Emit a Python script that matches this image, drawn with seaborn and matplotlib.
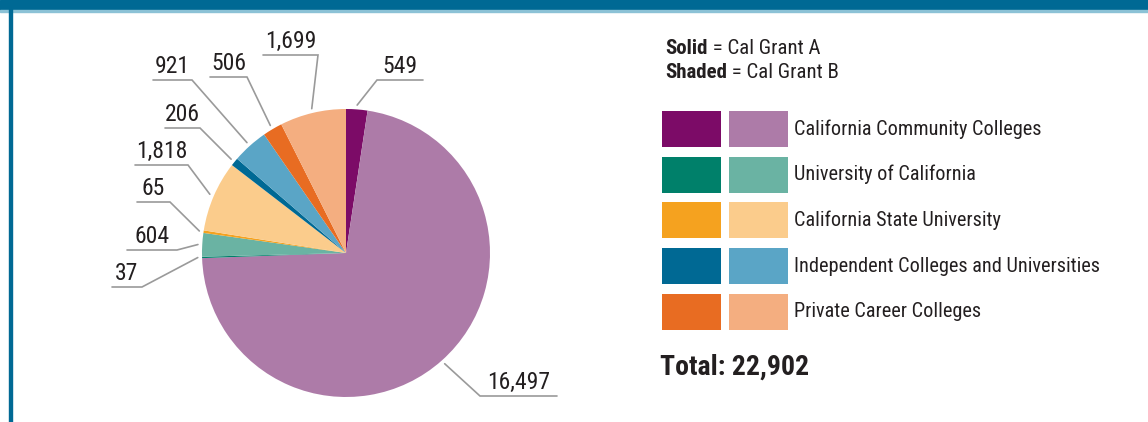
import numpy as np
import matplotlib.pyplot as plt
from matplotlib.patches import Rectangle
import seaborn as sns

sns.set_style("white")
plt.rcParams['font.family'] = ['Roboto Condensed', 'Archivo Narrow', 'PT Sans Narrow',
                               'Liberation Sans', 'DejaVu Sans']

# Data: Cal Grant recipients by segment
segments = ['California Community Colleges', 'University of California',
            'California State University', 'Independent Colleges and Universities',
            'Private Career Colleges']
grant_a = [549, 37, 65, 206, 506]
grant_b = [16497, 604, 1818, 921, 1699]
solid_colors = ['#7c0b67', '#00806a', '#f5a21f', '#006994', '#e86c22']
shaded_colors = ['#ad7ba8', '#6ab3a3', '#fbcc8c', '#5aa5c6', '#f4ae80']

values = [v for pair in zip(grant_a, grant_b) for v in pair]
colors = [c for pair in zip(solid_colors, shaded_colors) for c in pair]

W, H = 1148, 422
fig = plt.figure(figsize=(W / 100, H / 100), dpi=100)
ax = fig.add_axes([0, 0, 1, 1])

# pie in pixel space
cx, cy, r = 346, H - 253, 144
wedges, _ = ax.pie(values, colors=colors, startangle=90, counterclock=False,
                   center=(cx, cy), radius=r, wedgeprops=dict(linewidth=0))
ax.set_xlim(0, W)
ax.set_ylim(0, H)
ax.axis('off')

# label leader layout: (elbow x, elbow y from top, end x of underline)
leaders = [(377, 80, 423), (480, 396, 557), (142, 287, 112), (177, 250, 127),
           (170, 202, 137), (188, 165, 135), (200, 128, 165), (192, 80, 153),
           (247, 77, 210), (318, 55, 263)]
gray = '#9a9a9a'
for w, v, (ex, ey, hx) in zip(wedges, values, leaders):
    mid = np.deg2rad((w.theta1 + w.theta2) / 2)
    px, py = cx + r * 1.03 * np.cos(mid), cy + r * 1.03 * np.sin(mid)
    ey = H - ey
    ax.plot([px, ex, hx], [py, ey, ey], color=gray, lw=1.2, solid_joinstyle='miter')
    ax.text((ex + hx) / 2, ey + 2, f'{v:,}', ha='center', va='bottom',
            fontsize=17, color='#231f20')

# legend
renderer = fig.canvas.get_renderer()
for i, (bold, rest) in enumerate([('Solid', ' = Cal Grant A'), ('Shaded', ' = Cal Grant B')]):
    y = H - (48 + i * 25)
    t = ax.text(665, y, bold, fontsize=15, fontweight='bold', va='center', color='#231f20')
    bb = t.get_window_extent(renderer)
    ax.text(bb.x1, y, rest, fontsize=15, va='center', color='#231f20')

for i, seg in enumerate(segments):
    yc = H - (129 + i * 45.7)
    ax.add_patch(Rectangle((662, yc - 18), 59, 36, color=solid_colors[i], lw=0))
    ax.add_patch(Rectangle((729, yc - 18), 59, 36, color=shaded_colors[i], lw=0))
    ax.text(794, yc, seg, fontsize=14.6, va='center', color='#231f20')

ax.text(660, H - 367, f'Total: {sum(values):,}', fontsize=20, fontweight='bold',
        va='center', color='#231f20')

# frame decoration: header bar and left rule
fig.patches.append(Rectangle((0, 1 - 10 / H), 1, 10 / H, transform=fig.transFigure,
                             color='#006994', zorder=5))
fig.patches.append(Rectangle((0, 1 - 11.5 / H), 1, 1.5 / H, transform=fig.transFigure,
                             color='#8cc2d6', zorder=5))
fig.patches.append(Rectangle((9 / W, 0), 2.5 / W, 1, transform=fig.transFigure,
                             color='#006994', zorder=5))

fig.savefig('out.png', dpi=100)
